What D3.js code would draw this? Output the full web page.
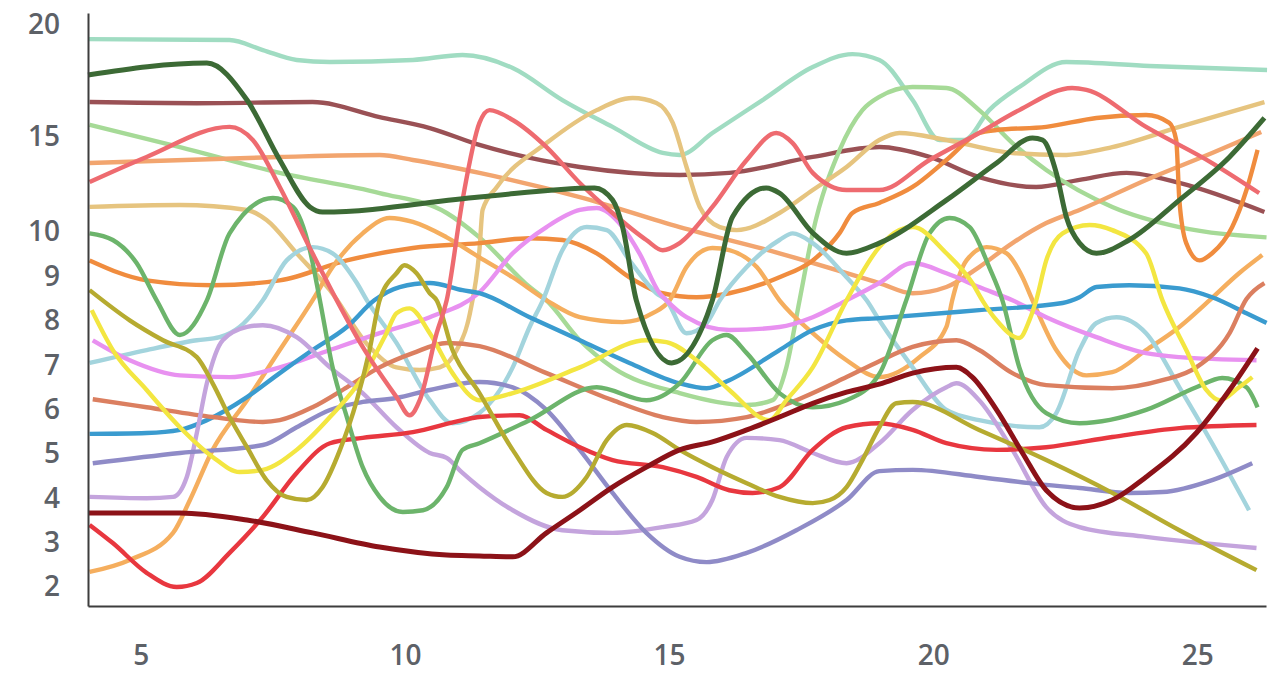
<!DOCTYPE html>
<html><head><meta charset="utf-8">
<script src="https://cdn.jsdelivr.net/npm/d3@7"></script>
<style>html,body{margin:0;padding:0;background:#fff;}svg{display:block;}</style>
</head><body><svg id="c" width="1282" height="699"></svg>
<script>
// ---- data (x, y) per series ----
const mint=[[4.0,19.37],[6.68,19.33],[7.31,18.88],[7.95,18.44],[8.58,18.35],[10.15,18.44],[11.09,18.66],[12.04,18.08],[12.98,16.65],[13.93,15.45],[14.88,14.16],[15.2,14.05],[15.82,15.18],[16.77,16.65],[17.72,18.12],[18.47,18.7],[18.98,18.44],[19.61,16.65],[20.12,14.84],[20.59,14.84],[21.06,16.2],[21.63,17.23],[22.52,18.35],[24.09,18.17],[26.32,17.99]];
const darkGreen=[[4.0,17.77],[6.25,18.3],[7.01,16.65],[7.63,13.79],[8.2,11.32],[8.44,11.05],[11.41,11.84],[13.59,12.32],[13.93,11.68],[14.12,10.26],[14.38,8.46],[15.05,7.05],[15.82,8.46],[16.2,10.79],[16.84,12.32],[17.09,12.05],[17.72,9.98],[18.36,9.52],[18.98,9.75],[20.25,11.68],[21.2,13.63],[21.88,14.95],[22.07,14.84],[22.33,13.11],[22.52,10.79],[22.77,9.75],[23.09,9.52],[23.71,9.82],[24.66,11.68],[25.61,13.95],[26.27,15.85]];
const brown=[[4.03,16.56],[6.06,16.51],[8.25,16.56],[9.52,15.89],[10.47,15.4],[11.41,14.58],[13.31,13.42],[15.2,13.0],[16.14,13.11],[17.72,13.95],[18.98,14.47],[19.93,13.95],[20.87,12.89],[21.95,12.37],[22.77,12.74],[23.66,13.11],[24.66,12.58],[26.27,11.05]];
const lightGreen=[[4.03,15.54],[5.74,14.47],[7.63,13.11],[9.52,12.05],[10.79,11.0],[11.41,9.88],[12.36,8.76],[12.68,8.46],[13.31,7.56],[13.93,6.95],[15.2,6.37],[16.47,6.1],[16.96,6.21],[17.22,6.95],[17.47,8.46],[17.72,9.98],[18.23,14.32],[18.66,16.2],[18.98,16.79],[19.61,17.23],[20.25,17.19],[20.87,16.2],[21.5,14.68],[22.14,13.26],[23.39,11.32],[24.66,10.26],[26.31,9.88]];
const salmonRed=[[4.03,12.63],[5.11,13.95],[6.68,15.45],[7.12,14.84],[7.63,12.37],[8.25,9.52],[8.71,8.46],[9.2,7.41],[9.84,6.28],[10.09,5.87],[10.28,6.21],[10.6,7.72],[10.79,8.46],[11.09,11.68],[11.41,15.63],[11.6,16.2],[12.04,15.76],[12.68,14.47],[13.31,12.58],[13.93,11.0],[14.57,9.82],[14.88,9.59],[15.2,9.75],[15.82,11.32],[16.47,13.79],[17.03,15.18],[17.34,14.68],[17.72,13.11],[18.36,12.21],[18.98,12.21],[19.93,13.79],[20.87,15.18],[21.63,16.2],[22.63,17.19],[22.9,17.1],[24.03,15.45],[25.28,13.63],[26.17,12.05]];
const peach=[[4.03,13.63],[7.63,13.95],[9.52,14.05],[10.15,13.79],[11.41,13.11],[13.31,11.84],[15.2,10.26],[17.09,9.52],[18.98,8.85],[19.61,8.62],[20.25,8.76],[20.87,9.21],[21.5,9.75],[22.14,10.47],[22.77,11.16],[24.03,12.74],[25.28,14.16],[26.21,15.22]];
const tan=[[4.03,11.32],[5.74,11.42],[7.01,11.16],[7.38,10.63],[7.95,9.52],[8.58,8.69],[9.33,7.41],[9.84,6.95],[10.28,6.89],[10.66,6.95],[10.98,7.34],[11.23,8.17],[11.41,9.59],[11.47,11.16],[11.74,12.37],[12.68,14.68],[13.63,16.2],[14.31,16.74],[14.76,16.52],[15.07,15.63],[15.33,13.42],[15.58,11.32],[15.96,10.26],[16.28,10.1],[17.09,11.0],[17.72,12.21],[18.36,13.42],[18.98,14.84],[19.36,15.18],[20.25,14.84],[21.5,14.16],[22.45,14.05],[23.39,14.47],[24.66,15.45],[26.27,16.56]];
const green=[[4.03,9.97],[4.47,9.82],[4.92,9.3],[5.3,8.46],[5.74,7.68],[6.25,8.46],[6.68,9.97],[7.5,11.79],[7.88,11.32],[8.2,9.59],[8.39,8.46],[8.63,6.95],[8.9,5.83],[9.2,4.7],[9.52,4.03],[9.96,3.69],[10.34,3.73],[10.79,4.25],[11.09,5.09],[11.41,5.24],[12.36,5.76],[13.63,6.5],[14.57,6.21],[15.2,6.59],[15.82,7.56],[16.09,7.68],[16.47,7.27],[17.09,6.37],[17.72,6.05],[18.36,6.21],[18.98,6.8],[19.49,8.46],[19.93,9.97],[20.31,10.74],[20.69,10.26],[21.06,9.21],[21.31,8.46],[21.63,6.95],[22.14,5.92],[22.77,5.69],[24.03,5.99],[24.98,6.5],[25.47,6.71],[25.93,6.5],[26.14,6.05]];
const orange=[[4.03,9.36],[5.11,8.91],[6.36,8.8],[7.63,8.91],[8.9,9.36],[10.15,9.64],[11.41,9.75],[12.36,9.86],[12.98,9.82],[13.63,9.52],[14.25,8.98],[14.88,8.62],[15.52,8.53],[16.14,8.62],[17.09,8.98],[17.72,9.36],[18.23,9.98],[18.47,11.0],[18.98,11.53],[19.61,12.37],[20.25,13.79],[20.87,15.18],[21.2,15.31],[22.14,15.45],[23.09,15.85],[24.03,15.98],[24.47,15.63],[24.6,14.84],[24.66,11.68],[24.79,9.75],[25.04,9.36],[25.28,9.52],[25.66,10.26],[25.93,12.21],[26.14,14.32]];
const lightOrange=[[4.03,2.34],[4.79,2.61],[5.61,3.22],[5.93,3.96],[6.36,5.09],[7.01,6.21],[7.63,7.34],[8.25,8.46],[8.63,9.21],[9.2,9.97],[9.71,10.74],[10.15,10.53],[10.79,9.88],[11.41,9.43],[12.04,8.98],[12.68,8.46],[13.31,8.08],[14.12,7.97],[14.69,8.17],[15.01,8.46],[15.33,9.21],[15.82,9.64],[16.14,9.59],[16.66,9.21],[17.09,8.46],[17.72,7.72],[18.36,7.11],[18.98,6.73],[19.74,7.18],[20.25,7.86],[20.36,8.46],[20.63,9.36],[21.01,9.66],[21.39,9.52],[21.69,8.98],[21.88,8.46],[22.33,7.34],[22.9,6.77],[23.39,6.84],[24.03,7.34],[24.66,7.86],[25.23,8.46],[25.79,9.07],[26.23,9.48]];
const cyan=[[4.03,7.05],[5.11,7.34],[6.06,7.56],[6.49,7.63],[6.87,7.86],[7.31,8.46],[7.76,9.36],[8.25,9.66],[8.63,9.52],[9.09,8.85],[9.28,8.46],[9.84,7.5],[10.47,6.21],[10.9,5.69],[11.41,5.92],[12.04,6.95],[12.36,7.86],[12.61,8.46],[12.98,9.59],[13.44,10.26],[13.82,10.1],[14.25,9.36],[14.76,8.62],[14.95,8.46],[15.33,7.72],[15.71,7.95],[15.96,8.46],[16.47,9.21],[17.09,9.82],[17.34,9.97],[17.72,9.75],[18.36,8.98],[18.74,8.46],[18.98,8.01],[19.61,6.95],[20.25,5.99],[20.87,5.76],[22.01,5.6],[22.33,5.92],[22.77,7.34],[23.09,7.95],[23.47,8.08],[24.03,7.72],[24.66,6.5],[25.28,5.24],[25.98,3.73]];
const orchid=[[4.09,7.56],[4.79,7.11],[5.74,6.77],[6.68,6.73],[7.63,6.95],[8.58,7.34],[9.52,7.72],[10.47,8.08],[11.41,8.64],[12.04,9.52],[12.68,10.26],[13.31,11.16],[13.63,11.26],[14.12,10.26],[14.44,9.52],[14.82,8.62],[14.95,8.46],[15.33,8.08],[16.14,7.79],[17.09,7.86],[17.72,8.08],[18.36,8.46],[18.98,8.85],[19.61,9.3],[20.25,9.07],[20.87,8.76],[21.5,8.46],[22.14,8.08],[23.09,7.63],[24.03,7.27],[24.66,7.18],[26.12,7.11]];
const blue=[[4.03,5.45],[5.11,5.47],[5.74,5.54],[6.25,5.76],[7.01,6.28],[7.63,6.82],[8.25,7.34],[8.9,7.86],[9.42,8.46],[9.9,8.76],[10.47,8.85],[11.09,8.69],[11.41,8.62],[12.36,8.08],[13.31,7.56],[14.25,7.05],[15.2,6.59],[15.71,6.48],[16.14,6.66],[17.09,7.34],[17.72,7.79],[18.36,8.01],[18.98,8.06],[20.87,8.24],[22.45,8.4],[22.77,8.53],[23.09,8.76],[23.71,8.8],[24.66,8.73],[25.28,8.53],[25.93,8.17],[26.31,7.95]];
const yellow=[[4.07,8.24],[4.47,7.34],[5.11,6.44],[5.74,5.6],[6.36,4.93],[6.87,4.59],[7.31,4.64],[7.95,5.09],[8.58,5.83],[9.2,6.73],[9.65,7.72],[9.84,8.17],[10.09,8.28],[10.47,7.72],[10.9,6.82],[11.41,6.21],[12.04,6.37],[13.31,6.95],[14.57,7.56],[14.95,7.52],[15.52,7.11],[16.14,6.44],[16.9,5.76],[17.22,6.21],[17.72,6.95],[18.36,8.46],[18.98,9.66],[19.36,10.1],[19.61,10.26],[20.25,9.52],[20.74,8.85],[20.93,8.46],[21.2,8.01],[21.63,7.61],[21.82,8.01],[21.95,8.46],[22.14,9.36],[22.45,9.97],[22.96,10.37],[23.39,10.1],[24.03,9.52],[24.34,8.46],[24.79,7.34],[25.17,6.44],[25.42,6.21],[25.79,6.5],[26.04,6.73]];
const terracotta=[[4.09,6.23],[5.11,6.05],[6.36,5.83],[7.31,5.72],[7.63,5.76],[8.25,6.05],[8.9,6.5],[9.52,6.95],[10.15,7.27],[10.79,7.5],[11.41,7.43],[12.68,6.82],[13.93,6.21],[14.88,5.83],[15.52,5.72],[16.47,5.83],[17.41,6.21],[18.36,6.73],[18.98,7.09],[19.61,7.41],[20.44,7.56],[20.87,7.34],[21.5,6.82],[22.14,6.55],[23.39,6.48],[24.34,6.66],[24.98,6.95],[25.61,7.72],[25.93,8.49],[26.27,8.85]];
const olive=[[4.03,8.69],[4.79,8.01],[5.42,7.56],[6.06,7.18],[6.36,6.59],[6.68,5.83],[7.01,5.15],[7.38,4.41],[7.76,4.03],[8.14,3.96],[8.44,4.25],[8.77,5.09],[9.09,6.21],[9.33,7.34],[9.52,8.46],[9.84,9.07],[9.99,9.25],[10.22,9.07],[10.47,8.62],[10.6,8.46],[10.9,7.34],[11.41,6.37],[12.04,5.09],[12.68,4.12],[12.98,4.03],[13.44,4.48],[13.82,5.31],[14.2,5.65],[14.69,5.47],[15.2,5.09],[15.82,4.7],[16.47,4.34],[17.09,4.03],[17.72,3.89],[18.04,3.96],[18.36,4.25],[18.66,4.86],[18.98,5.6],[19.3,6.14],[19.61,6.17],[20.87,5.54],[22.14,4.86],[23.39,4.12],[24.66,3.28],[26.12,2.38]];
const lavender=[[4.03,4.03],[5.11,4.0],[5.61,4.03],[5.87,4.48],[6.06,5.47],[6.25,6.59],[6.55,7.56],[7.01,7.86],[7.31,7.9],[7.95,7.63],[8.58,6.95],[9.2,6.37],[9.84,5.6],[10.47,5.02],[10.79,4.91],[11.09,4.57],[11.41,4.25],[12.04,3.73],[12.98,3.28],[13.93,3.22],[14.88,3.35],[15.52,3.51],[15.82,3.96],[16.09,4.93],[16.47,5.36],[17.09,5.31],[17.72,5.02],[18.36,4.79],[18.98,5.24],[19.61,5.99],[20.25,6.5],[20.44,6.59],[20.87,6.21],[21.5,5.09],[22.14,3.8],[22.77,3.35],[24.03,3.13],[26.12,2.88]];
const slate=[[4.09,4.79],[5.74,5.02],[7.31,5.2],[7.95,5.6],[8.58,5.99],[9.2,6.17],[9.84,6.26],[10.47,6.44],[11.41,6.62],[12.04,6.5],[12.68,5.99],[13.31,5.09],[13.93,4.12],[14.57,3.22],[15.2,2.68],[15.71,2.56],[16.47,2.77],[17.41,3.28],[18.36,3.96],[18.98,4.61],[19.61,4.64],[20.87,4.48],[21.82,4.34],[22.77,4.23],[23.71,4.12],[24.34,4.14],[25.28,4.41],[26.04,4.79]];
const red=[[4.03,3.4],[4.47,2.99],[5.11,2.32],[5.68,2.0],[6.06,2.09],[6.68,2.77],[7.31,3.58],[7.95,4.57],[8.58,5.24],[9.2,5.36],[10.15,5.49],[11.09,5.76],[11.41,5.83],[12.17,5.87],[12.68,5.54],[13.31,5.15],[13.93,4.86],[14.88,4.7],[15.52,4.48],[16.14,4.18],[16.58,4.12],[17.09,4.25],[17.72,5.09],[18.36,5.6],[18.98,5.69],[19.61,5.54],[20.25,5.24],[21.2,5.09],[22.14,5.15],[23.39,5.38],[24.66,5.58],[26.12,5.65]];
const darkRed=[[4.0,3.67],[5.74,3.67],[7.01,3.51],[8.25,3.22],[9.52,2.9],[10.79,2.72],[11.41,2.7],[12.04,2.68],[12.68,3.22],[13.31,3.73],[13.93,4.25],[14.57,4.7],[15.2,5.09],[15.82,5.27],[16.47,5.54],[17.09,5.83],[17.72,6.14],[18.36,6.39],[18.98,6.57],[19.61,6.82],[20.44,6.95],[20.74,6.73],[21.2,5.99],[21.69,5.02],[22.14,4.18],[22.77,3.78],[23.39,3.96],[24.03,4.48],[24.98,5.47],[25.61,6.44],[26.14,7.38]];

const seriesList=[mint,brown,lightGreen,peach,tan,orange,lightOrange,cyan,orchid,blue,terracotta,lavender,slate,red,green,yellow,olive,salmonRed,darkRed,darkGreen];
const seriesColors=["#a0dcc2","#9a5155","#a6da97","#f2a56f","#e6c47f","#f08c3e","#f5ae5e","#a3d4dd","#e891f0","#3a9bcf","#db7f60","#c4a4dd","#8f8bc7","#e8373f","#6cb46b","#f3e641","#b6ab30","#ee6b70","#8c1218","#3c6a35"];
const yTicks=[2,3,4,5,6,7,8,9,10,15,20];
const xTicks=[5,10,15,20,25];

const svg=d3.select("#c");
svg.append("rect").attr("width",1282).attr("height",699).attr("fill","#fff");
const x=d3.scaleLinear().domain([4,26.3]).range([88,1266]);
const y=d3.scaleLinear().domain([1.57,2,10,15,20,20.54]).range([606,587,232,137,25,13]);

const line=d3.line().x(d=>x(d[0])).y(d=>y(d[1])).curve(d3.curveMonotoneX);
const g=svg.append("g");
seriesList.forEach((s,i)=>{
  const c=seriesColors[i];
  const w=(c==="#3c6a35"||c==="#8c1218")?5:4.4;
  g.append("path").attr("d",line(s)).attr("fill","none").attr("stroke",c)
   .attr("stroke-width",w).attr("stroke-linejoin","round").attr("stroke-linecap","butt");
});

const font="'Open Sans', sans-serif";
const ya=svg.append("g").attr("transform","translate(88,0)")
  .call(d3.axisLeft(y).tickValues(yTicks).tickSize(0).tickPadding(28).tickFormat(d3.format("d")));
const xa=svg.append("g").attr("transform","translate(0,606)")
  .call(d3.axisBottom(x).tickValues(xTicks).tickSize(0).tickPadding(39).tickFormat(d3.format("d")));
[ya,xa].forEach(a=>{
  a.select(".domain").attr("stroke","#3d3d3d").attr("stroke-width",2);
  a.selectAll("text").attr("fill","#5d6167").style("font-family",font).style("font-size","28px").style("font-weight","600");
});
</script></body></html>
